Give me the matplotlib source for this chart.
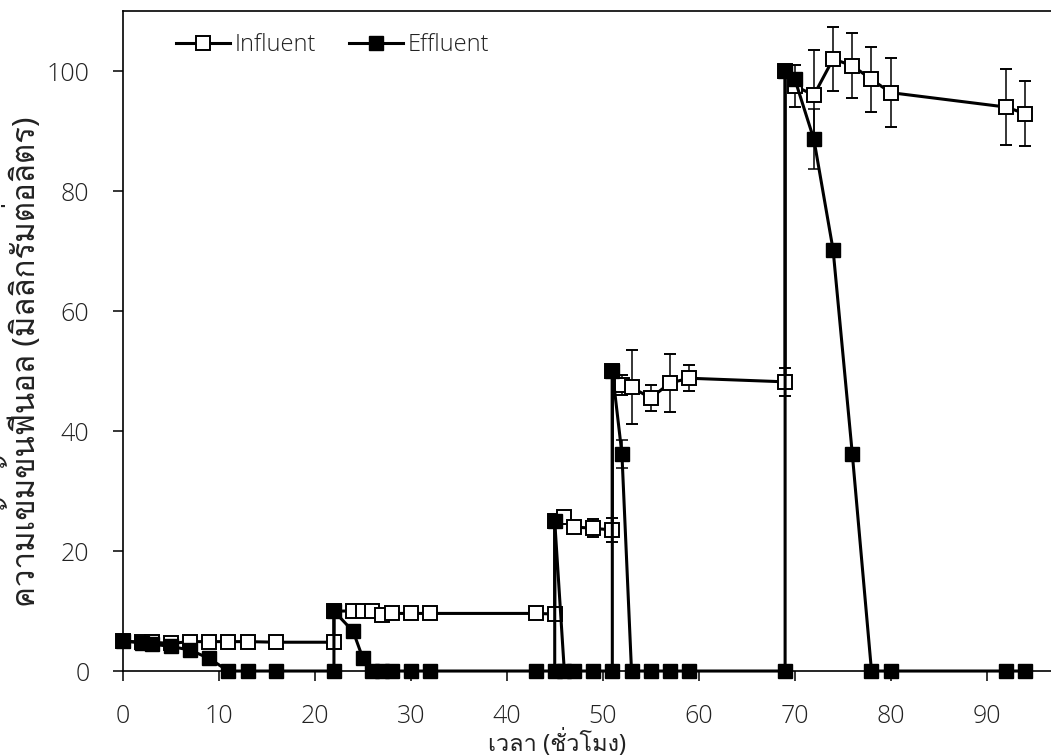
import matplotlib
matplotlib.use('Agg')
import matplotlib.pyplot as plt
from matplotlib import font_manager
from fontTools.ttLib import TTFont

# time (h) and phenol concentration (mg/L)
inf_t = [0, 2, 3, 5, 7, 9, 11, 13, 16, 22, 22, 24, 25, 26, 27, 28, 30, 32, 43, 45, 45, 46, 47, 49, 51, 51,
         52, 53, 55, 57, 59, 69, 69, 70, 72, 74, 76, 78, 80, 92, 94]
inf_c = [5, 4.8, 4.8, 4.6, 4.9, 4.9, 4.9, 4.9, 4.8, 4.8, 10, 10, 10, 10, 9.3, 9.6, 9.6, 9.6, 9.6, 9.5, 25,
         25.7, 24, 23.8, 23.5, 50, 47.7, 47.3, 45.5, 48, 48.8, 48.2, 100, 97.5, 96, 102, 100.9, 98.6, 96.4,
         94, 92.9]
inf_err = [0.3, 0.3, 0.3, 0.3, 0.3, 0.3, 0.3, 0.3, 0.2, 0.8, 0, 0.3, 0.3, 0.3, 0.3, 0.3, 0.3, 0.3, 0.3, 0.6, 0,
           0.5, 0.8, 1.5, 2, 0, 1.7, 6.2, 2.2, 4.9, 2.2, 2.3, 0, 3.5, 7.5, 5.4, 5.4, 5.4, 5.7, 6.4, 5.4]

eff_t = [0, 2, 3, 5, 7, 9, 11, 13, 16, 22, 22, 24, 25, 26, 27, 28, 30, 32, 43, 45, 45, 46, 47, 49, 51, 51,
         52, 53, 55, 57, 59, 69, 69, 70, 72, 74, 76, 78, 80, 92, 94]
eff_c = [5, 4.7, 4.5, 4.1, 3.5, 2.1, 0, 0, 0, 0, 10, 6.6, 2.2, 0, 0, 0, 0, 0, 0, 0, 25, 0, 0, 0, 0, 50,
         36.2, 0, 0, 0, 0, 0, 100, 98.7, 88.6, 70.2, 36.2, 0, 0, 0, 0]
eff_err = [0, 0, 0, 0, 0, 0, 0, 0, 0, 0, 0, 0.5, 0, 0, 0, 0, 0, 0, 0, 0, 0, 0, 0, 0, 0, 0,
           2.3, 0, 0, 0, 0, 0, 0, 1, 5, 1, 0.5, 0, 0, 0, 0]


def find_thai_font():
    for f in font_manager.fontManager.ttflist:
        try:
            tt = TTFont(f.fname, fontNumber=0, lazy=True)
            cmap = tt.getBestCmap()
            if cmap and 0x0E01 in cmap and 0x0E27 in cmap and 0x0E21 in cmap:
                return f.name
        except Exception:
            pass
    return None


def find_light_font():
    names = ['Noto Sans', 'Open Sans', 'Lato', 'Roboto', 'Inter']
    for n in names:
        for f in font_manager.fontManager.ttflist:
            if f.name == n and f.style == 'normal' and 200 <= int(f.weight) <= 300:
                return n
    return None


thai = find_thai_font()
light = find_light_font()
fams = ['Noto Sans', 'DejaVu Sans']
if thai:
    fams = ['Noto Sans', thai, 'DejaVu Sans']
plt.rcParams['font.family'] = fams
num_fams = [light] + fams if light else fams
num_w = 'light' if light else 'normal'
txt = '#222222'

fig = plt.figure(figsize=(10.51, 7.56), dpi=100)
ax = fig.add_axes([0.1168, 0.1124, 0.8832, 0.873])

e1 = ax.errorbar(inf_t, inf_c, yerr=inf_err, color='black', lw=2.2, marker='s', ms=9.5,
                 mfc='white', mec='black', mew=1.4, ecolor='black', elinewidth=1.1, capsize=4.3,
                 capthick=1.1, clip_on=False, zorder=3)
e2 = ax.errorbar(eff_t, eff_c, yerr=eff_err, color='black', lw=2.2, marker='s', ms=10.5,
                 mfc='black', mec='black', ecolor='black', elinewidth=1.1, capsize=4.3,
                 capthick=1.1, clip_on=False, zorder=4)

ax.set_xlim(0, 96.7)
ax.set_ylim(0, 110)
ax.set_xticks(range(0, 100, 10))
ax.set_yticks(range(0, 101, 20))
ax.spines['right'].set_visible(False)
for s in ['left', 'bottom', 'top']:
    ax.spines[s].set_linewidth(1.2)
ax.tick_params(direction='out', length=7, width=1.1, labelsize=18, pad=17, labelcolor=txt)
for lab in ax.get_xticklabels() + ax.get_yticklabels():
    lab.set_family(num_fams)
    lab.set_fontweight(num_w)

ax.set_xlabel('เวลา (ชั่วโมง)', fontsize=17, color=txt)
ax.xaxis.set_label_coords(0.468, -0.088)
ax.set_ylabel('ความเข้มข้นฟีนอล (มิลลิกรัมต่อลิตร)', fontsize=22.5, color=txt)
ax.yaxis.set_label_coords(-0.087, 0.468)

ax.legend([e1[0], e2[0]], ['Influent', 'Effluent'], loc='center left',
          bbox_to_anchor=(0.034, 0.948), ncol=2, frameon=False, labelcolor=txt,
          prop={'family': num_fams, 'size': 17, 'weight': num_w}, handlelength=2.3,
          handletextpad=0.2, columnspacing=1.4)

fig.savefig('out.png', dpi=100)
